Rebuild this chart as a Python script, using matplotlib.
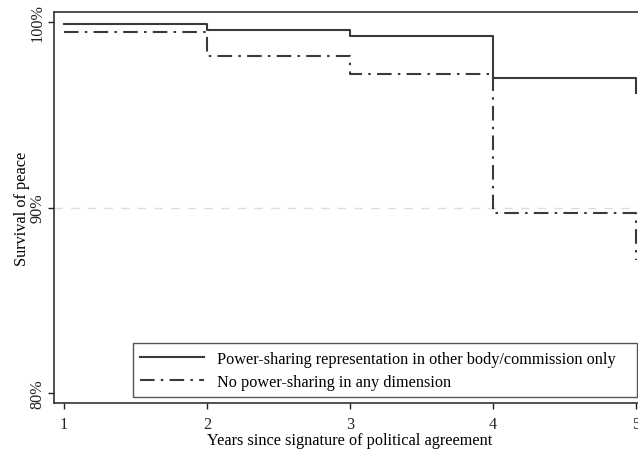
import matplotlib.pyplot as plt
import matplotlib.ticker as mtick

# survival estimates (value from each year on)
years = [1, 2, 3, 4, 5]
surv_other_body = [0.999, 0.9955, 0.9925, 0.970, 0.962]
surv_none = [0.9946, 0.9817, 0.972, 0.897, 0.872]
label_other = 'Power-sharing representation in other body/commission only'
label_none = 'No power-sharing in any dimension'

plt.rcParams['font.family'] = ['Liberation Serif', 'DejaVu Serif']

fig = plt.figure(figsize=(6.38, 4.52), dpi=100)
ax = fig.add_axes([0.0846, 0.106, 0.928, 0.865])

ax.step(years, surv_other_body, where='post', color='#3a3a3a', lw=1.5, label=label_other)
ax.step(years, surv_none, where='post', color='#3a3a3a', lw=1.5,
        dashes=(7, 3, 1.2, 3), label=label_none)

# light grid line at 90%
ax.axhline(0.9, color='#dddddd', lw=1, dashes=(6, 6), zorder=0)

ax.set_xlim(0.93, 5.07)
ax.set_ylim(0.7946, 1.0054)
ax.set_xticks(years)
ax.set_yticks([0.8, 0.9, 1.0])
ax.yaxis.set_major_formatter(mtick.PercentFormatter(1.0, decimals=0))
for lbl in ax.get_yticklabels():
    lbl.set_rotation(90)
    lbl.set_va('center')
ax.tick_params(direction='out', length=4, width=1, labelsize=11.7, colors='#222222')
ax.tick_params(axis='y', pad=2)
ax.tick_params(axis='x', pad=5)
for s in ax.spines.values():
    s.set_color('#333333')
    s.set_linewidth(1.2)

ax.set_xlabel('Years since signature of political agreement', fontsize=11.7, labelpad=0)
ax.set_ylabel('Survival of peace', fontsize=11.7, labelpad=0)

leg = ax.legend(loc='lower left', bbox_to_anchor=(0.1334, 0.015, 0.852, 0.136), mode='expand',
                fancybox=False, edgecolor='#555555', fontsize=11.7, handlelength=3.9,
                borderaxespad=0, framealpha=1, labelspacing=0.45, borderpad=0.45)
leg.get_frame().set_linewidth(1.0)

fig.savefig('out.png', dpi=100)
